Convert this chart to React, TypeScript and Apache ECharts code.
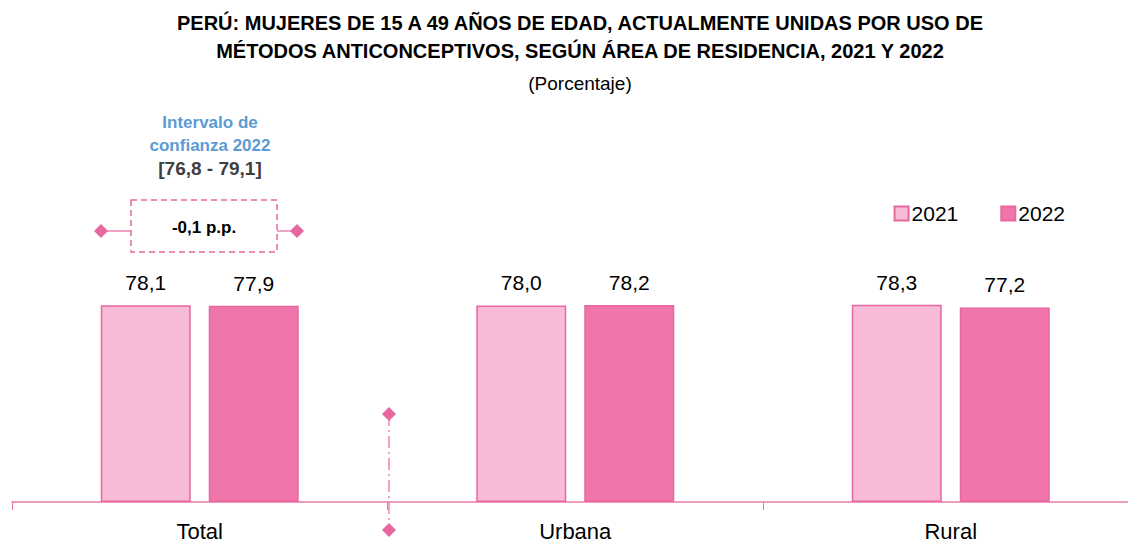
import React, { useEffect, useRef } from "react";
import * as echarts from "echarts";

const categories = ["Total", "Urbana", "Rural"];
const values2021 = [78.1, 78.0, 78.3];
const values2022 = [77.9, 78.2, 77.2];
const seriesNames = ["2021", "2022"];

const FONT = "'Liberation Sans Narrow', 'Arial Narrow', 'Liberation Sans', Arial, sans-serif";
const fmt = (v: number) => v.toFixed(1).replace(".", ",");

export default function App() {
  const ref = useRef<HTMLDivElement>(null);
  useEffect(() => {
    if (!ref.current) return;
    const chart = echarts.init(ref.current, undefined, { renderer: "svg" });
    const diamond = (x: number, y: number, s: number) => ({
      type: "polygon",
      shape: { points: [[x, y - s], [x + s, y], [x, y + s], [x - s, y]] },
      style: { fill: "#E8679F" },
      z: 10,
    });
    const labelCfg = {
      show: true,
      position: "top",
      distance: 12,
      formatter: (p: any) => fmt(p.value),
      fontFamily: FONT,
      fontSize: 21,
      color: "#000",
    };
    chart.setOption({
      animation: false,
      backgroundColor: "#ffffff",
      title: [
        {
          text: "PERÚ: MUJERES DE 15 A 49 AÑOS DE EDAD, ACTUALMENTE UNIDAS POR USO DE\nMÉTODOS ANTICONCEPTIVOS, SEGÚN ÁREA DE RESIDENCIA, 2021 Y 2022",
          left: 575,
          top: 4,
          textAlign: "center",
          textStyle: { fontFamily: FONT, fontSize: 20, fontWeight: "bold", color: "#000", lineHeight: 28 },
        },
        {
          text: "(Porcentaje)",
          left: 575,
          top: 69,
          textAlign: "center",
          textStyle: { fontFamily: FONT, fontSize: 19, fontWeight: "normal", color: "#000" },
        },
      ],
      legend: {
        data: seriesNames,
        icon: "rect",
        right: 58,
        top: 198,
        itemWidth: 14,
        itemHeight: 14,
        itemGap: 42,
        textStyle: { fontFamily: FONT, fontSize: 21, color: "#000", padding: [0, 0, 0, -2] },
      },
      grid: { left: 12, right: -10.5, top: 250, bottom: 42, containLabel: false, outerBoundsMode: "none" },
      xAxis: {
        type: "category",
        data: categories,
        axisLine: { lineStyle: { color: "#E87AAB", width: 1.5 } },
        axisTick: { show: true, length: 8, lineStyle: { color: "#E87AAB" } },
        axisLabel: { fontFamily: FONT, fontSize: 22, color: "#000", margin: 18 },
      },
      yAxis: {
        type: "value",
        min: 0,
        max: 100,
        show: false,
        splitLine: { show: false },
      },
      series: [
        {
          name: seriesNames[0],
          type: "bar",
          data: values2021,
          barWidth: 90,
          barGap: "20%",
          itemStyle: { color: "#F8BBD7", borderColor: "#E8679F", borderWidth: 1.5 },
          label: labelCfg,
        },
        {
          name: seriesNames[1],
          type: "bar",
          data: values2022,
          barWidth: 90,
          barGap: "20%",
          itemStyle: { color: "#F075AB", borderColor: "#E8679F", borderWidth: 1.5 },
          label: labelCfg,
        },
      ],
      graphic: [
        {
          type: "text",
          x: 210,
          y: 111,
          style: {
            text: "Intervalo de\nconfianza 2022",
            fontFamily: FONT,
            fontSize: 17,
            fontWeight: "bold",
            fill: "#5B9BD5",
            lineHeight: 23,
            textAlign: "center",
          },
        },
        {
          type: "text",
          x: 210,
          y: 159,
          style: {
            text: "[76,8 - 79,1]",
            fontFamily: FONT,
            fontSize: 19,
            fontWeight: "bold",
            fill: "#404040",
            textAlign: "center",
          },
        },
        {
          type: "rect",
          shape: { x: 131, y: 200, width: 146, height: 52 },
          style: { fill: "none", stroke: "#E8679F", lineWidth: 1.5, lineDash: [6, 4] },
        },
        {
          type: "text",
          x: 204,
          y: 227,
          style: {
            text: "-0,1 p.p.",
            fontFamily: FONT,
            fontSize: 17,
            fontWeight: "bold",
            fill: "#000",
            textAlign: "center",
            textVerticalAlign: "middle",
          },
        },
        {
          type: "line",
          shape: { x1: 101, y1: 231, x2: 131, y2: 231 },
          style: { stroke: "#E8679F", lineWidth: 1.2 },
        },
        {
          type: "line",
          shape: { x1: 277, y1: 231, x2: 297, y2: 231 },
          style: { stroke: "#E8679F", lineWidth: 1.2 },
        },
        diamond(101, 231, 7),
        diamond(297, 231, 7),
        {
          type: "line",
          shape: { x1: 389, y1: 414, x2: 389, y2: 530 },
          style: { stroke: "#E8679F", lineWidth: 1.2, lineDash: [12, 4, 2, 4] },
        },
        diamond(389, 414, 7),
        diamond(389, 530, 7),
      ],
    });
    return () => chart.dispose();
  }, []);
  return <div ref={ref} style={{ width: 1128, height: 544, position: "absolute", left: 0, top: 0 }} />;
}
